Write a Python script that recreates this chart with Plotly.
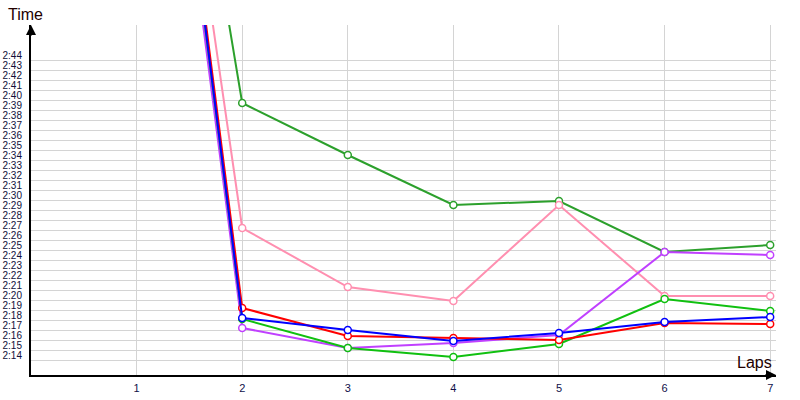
import plotly.graph_objects as go

# lap numbers and lap times (seconds) per car
laps = [1, 2, 3, 4, 5, 6, 7]
times_darkgreen = [223.0, 159.7, 154.5, 149.5, 149.9, 144.8, 145.5]
times_pink = [220.4, 147.2, 141.3, 139.9, 149.5, 140.4, 140.4]
times_purple = [219.1, 137.2, 135.2, 135.7, 136.5, 144.8, 144.5]
times_lime = [221.3, 138.1, 135.2, 134.3, 135.6, 140.1, 138.9]
times_red = [222.0, 139.2, 136.4, 136.2, 136.0, 137.7, 137.6]
times_blue = [221.6, 138.2, 137.0, 135.9, 136.7, 137.8, 138.3]

# y tick seconds (2:14 .. 2:44)
tick_seconds = list(range(134, 165))
tick_labels = ["%d:%02d" % (s // 60, s % 60) for s in tick_seconds]

Y_MIN, Y_MAX = 132.5, 167.5
X_MIN, X_MAX = 0, 7.055

series = [
    ("darkgreen", times_darkgreen, "#2ca02c"),
    ("pink", times_pink, "#ff8fb0"),
    ("purple", times_purple, "#c040ff"),
    ("lime", times_lime, "#10c010"),
    ("red", times_red, "#ff0000"),
    ("blue", times_blue, "#0000ff"),
]

fig = go.Figure()
for name, vals, col in series:
    fig.add_trace(go.Scatter(
        x=laps, y=vals, name=name, mode="lines+markers",
        line=dict(color=col, width=2),
        marker=dict(symbol="circle", size=7, color="white",
                    line=dict(color=col, width=1.5)),
        showlegend=False,
    ))

fig.update_layout(
    width=800, height=400,
    margin=dict(l=31, r=24, t=25, b=25, autoexpand=False),
    paper_bgcolor="white", plot_bgcolor="white",
    font=dict(family="Liberation Sans, Arial, sans-serif", size=10, color="#000000"),
    xaxis=dict(
        range=[X_MIN, X_MAX], tickmode="array", tickvals=laps[:],
        ticktext=[str(v) for v in laps], ticks="", automargin=False,
        showgrid=True, gridcolor="#d4d4d4", gridwidth=1,
        zeroline=False, showline=True, linecolor="#000000", linewidth=2,
        tickfont=dict(size=11, color="#10104a"), ticklabelstandoff=2,
    ),
    yaxis=dict(
        range=[Y_MIN, Y_MAX], tickmode="array",
        tickvals=[s + 0.5 for s in tick_seconds], ticktext=tick_labels,
        ticks="", showgrid=False, zeroline=False, automargin=False,
        showline=True, linecolor="#000000", linewidth=2,
        tickfont=dict(size=10, color="#10103a"), ticklabelstandoff=5,
        minor=dict(tickmode="array", tickvals=tick_seconds, showgrid=True,
                   gridcolor="#d4d4d4", gridwidth=1, ticks=""),
    ),
    annotations=[
        # arrow heads on the axes
        dict(x=X_MIN, y=Y_MAX, xref="x", yref="y", ax=0, ay=12, text="",
             showarrow=True, arrowhead=2, arrowsize=1, arrowwidth=2, arrowcolor="#000000"),
        dict(x=X_MAX, y=Y_MIN, xref="x", yref="y", ax=-12, ay=0, text="",
             showarrow=True, arrowhead=2, arrowsize=1, arrowwidth=2, arrowcolor="#000000"),
        dict(x=0, y=1, xref="paper", yref="paper", xshift=-6, yshift=0,
             xanchor="center", yanchor="bottom", text="Time", showarrow=False,
             font=dict(size=16, color="#220000")),
        dict(x=1, y=0, xref="paper", yref="paper", xshift=-2, yshift=2,
             xanchor="right", yanchor="bottom", text="Laps", showarrow=False,
             font=dict(size=16, color="#220000")),
    ],
)

# drop the default 8px body margin so the 800x400 figure fills the window
fig.write_html("out.html", config={"displayModeBar": False},
               post_script="document.body.style.margin='0';")
